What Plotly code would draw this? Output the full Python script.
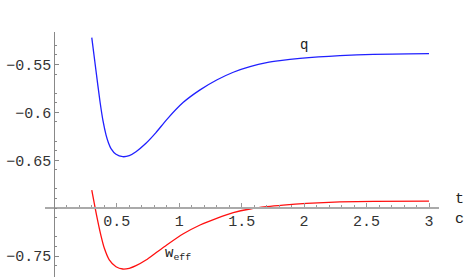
import plotly.graph_objects as go

# Data
t_q = [0.300, 0.334, 0.366, 0.390, 0.414, 0.434, 0.454, 0.494, 0.548, 0.600, 0.654,
       0.734, 0.814, 0.900, 1.033, 1.167, 1.300, 1.433, 1.567, 1.700, 1.807, 1.967,
       2.287, 2.554, 3.000]
q_vals = [-0.5220, -0.5568, -0.5889, -0.6090, -0.6235, -0.6320, -0.6378, -0.6438, -0.6463,
          -0.6452, -0.6411, -0.6323, -0.6212, -0.6075, -0.5895, -0.5765, -0.5662, -0.5581,
          -0.5523, -0.5481, -0.5460, -0.5437, -0.5408, -0.5394, -0.5387]
t_w = [0.300, 0.328, 0.348, 0.374, 0.400, 0.440, 0.494, 0.548, 0.600, 0.654, 0.734,
       0.814, 0.900, 1.033, 1.167, 1.300, 1.433, 1.567, 1.700, 1.833, 2.020, 2.287,
       2.554, 3.000]
w_vals = [-0.6811, -0.7005, -0.7136, -0.7290, -0.7417, -0.7540, -0.7612, -0.7636, -0.7628,
          -0.7601, -0.7542, -0.7466, -0.7385, -0.7268, -0.7176, -0.7106, -0.7047, -0.7009,
          -0.6985, -0.6968, -0.6950, -0.6935, -0.6930, -0.6927]

x_ticks = [0.5, 1, 1.5, 2, 2.5, 3]
x_tick_labels = ["0.5", "1", "1.5", "2", "2.5", "3"]
y_ticks = [-0.75, -0.65, -0.6, -0.55]
y_tick_labels = ["\u22120.75", "\u22120.65", "\u22120.6", "\u22120.55"]
x_minor = [round(0.1 * i, 2) for i in range(1, 31) if (i % 5) != 0]
y_minor = [round(-0.77 + 0.01 * i, 2) for i in range(0, 26) if (i % 5) != 0]

FONT = "Liberation Mono"

fig = go.Figure()
fig.add_trace(go.Scatter(x=t_q, y=q_vals, mode="lines",
                         line=dict(color="#2020ff", width=1.3, shape="spline", smoothing=0.6),
                         showlegend=False, hoverinfo="skip"))
fig.add_trace(go.Scatter(x=t_w, y=w_vals, mode="lines",
                         line=dict(color="#ff1010", width=1.3, shape="spline", smoothing=0.6),
                         showlegend=False, hoverinfo="skip"))

W, H = 475, 277
fig.add_annotation(x=2.0, y=-0.5300, text="q", showarrow=False, font=dict(family=FONT, size=14, color="#222"))
fig.add_annotation(x=0.99, y=-0.7479, text="w<sub>eff</sub>", showarrow=False,
                   font=dict(family=FONT, size=14, color="#222"))
fig.add_annotation(x=459 / W, xref="paper", xanchor="center", y=-0.7, yref="y", yanchor="middle", yshift=9,
                   text="t", showarrow=False, font=dict(family=FONT, size=15, color="#222"))
fig.add_annotation(x=459 / W, xref="paper", xanchor="center", y=-0.7, yref="y", yanchor="middle", yshift=-11,
                   text="c", showarrow=False, font=dict(family=FONT, size=15, color="#222"))

fig.update_layout(
    width=W, height=H, margin=dict(l=0, r=0, t=0, b=0),
    paper_bgcolor="white", plot_bgcolor="white",
    font=dict(family=FONT),
    xaxis=dict(domain=[45 / W, 439 / W], range=[-0.0745, 3.080], anchor="free", position=(H - 207.7) / H,
               showgrid=False, zeroline=False, showline=True, linecolor="#aaaaaa", linewidth=1.5,
               tickmode="array", tickvals=x_ticks, ticktext=x_tick_labels, ticks="inside", ticklen=4,
               tickcolor="#999", tickwidth=1,
               minor=dict(tickmode="array", tickvals=x_minor, ticks="inside", ticklen=2, tickcolor="#999"),
               tickfont=dict(family=FONT, size=15, color="#333"), automargin=False),
    yaxis=dict(domain=[0, (H - 32) / H], range=[-0.77193, -0.51606], anchor="free", position=54.3 / W,
               showgrid=False, zeroline=False, showline=True, linecolor="#888888", linewidth=1,
               tickmode="array", tickvals=y_ticks, ticktext=y_tick_labels, ticks="inside", ticklen=4,
               tickcolor="#888", tickwidth=1,
               minor=dict(tickmode="array", tickvals=y_minor, ticks="inside", ticklen=2, tickcolor="#888"),
               tickfont=dict(family=FONT, size=15, color="#333"), automargin=False),
)

fig.write_html("out.html", config={"displayModeBar": False},
               post_script="document.body.style.margin='0';document.body.style.padding='0';")
